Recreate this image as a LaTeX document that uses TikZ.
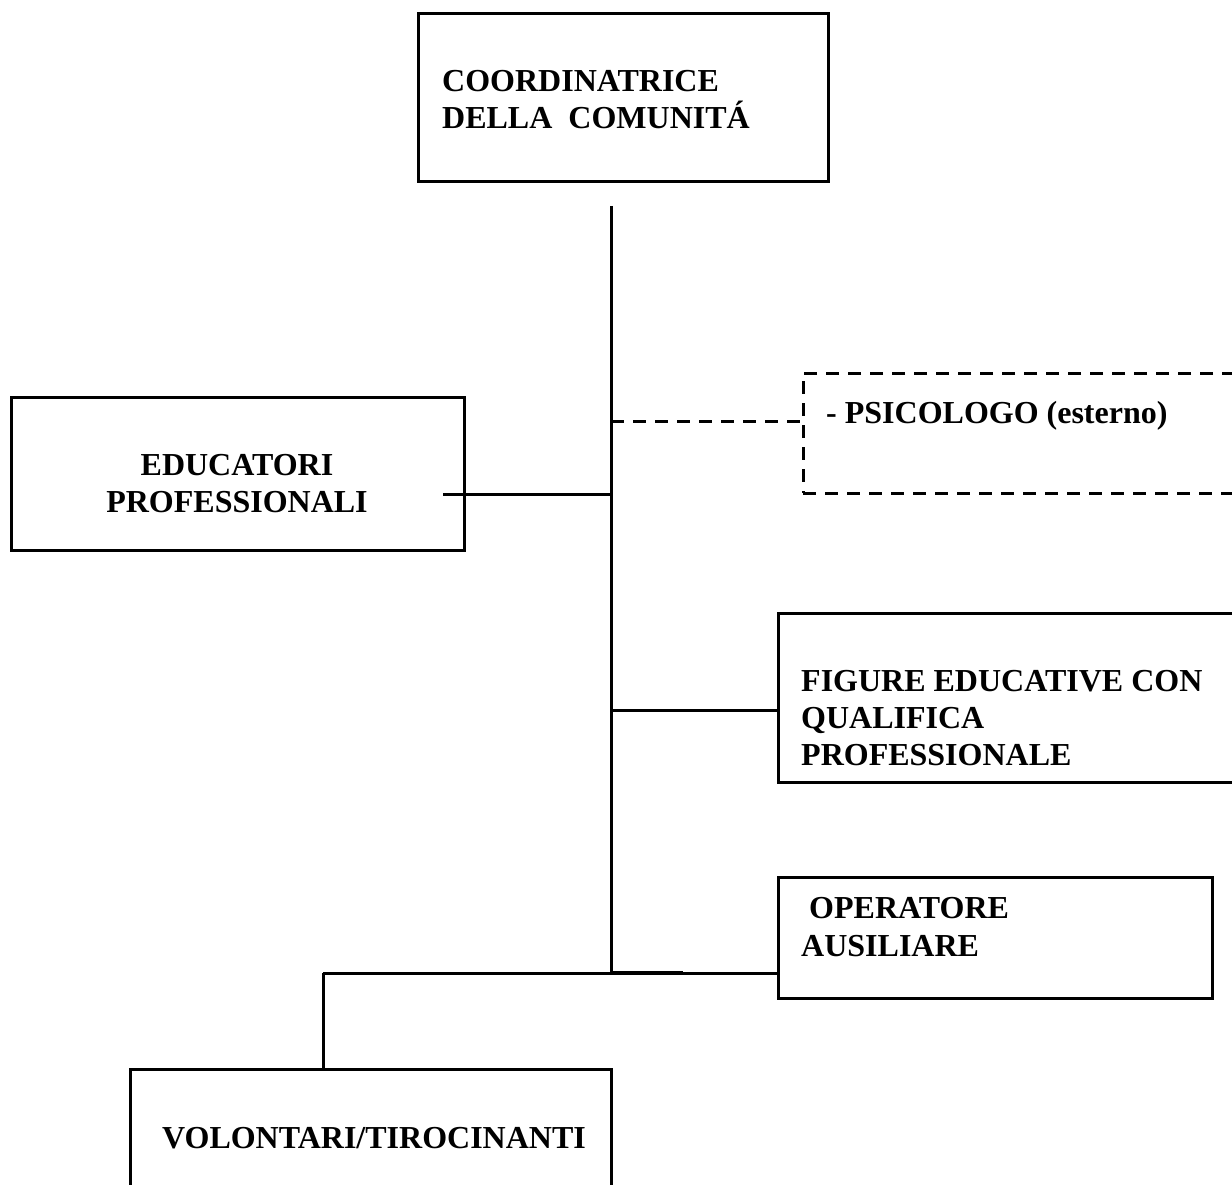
\documentclass[tikz,border=0pt]{standalone}
\usepackage{fontspec}
\setmainfont{Liberation Serif}
\tikzset{
  box/.style={draw, line width=3pt, inner sep=0pt},
  dbox/.style={box, dash pattern=on 13pt off 9pt},
  lbl/.style={font=\fontsize{32}{38}\selectfont\bfseries, inner sep=0pt, anchor=base west},
  clbl/.style={lbl, anchor=base},
  conn/.style={line width=3pt},
  dconn/.style={conn, dash pattern=on 13pt off 9pt},
}
\begin{document}
\begin{tikzpicture}[x=1pt,y=-1pt]
\useasboundingbox (0,0) rectangle (1232,1185);
\clip (0,0) rectangle (1232,1185);
% boxes
\node[box, minimum width=410pt, minimum height=168.5pt] (coord) at (623,97.75) {};
\node[box, minimum width=453pt, minimum height=153pt] (edu) at (237.5,473.5) {};
\node[dbox, minimum width=497pt, minimum height=120pt] (psi) at (1051.5,433) {};
\node[box, minimum width=522pt, minimum height=169pt] (fig) at (1039,697.5) {};
\node[box, minimum width=434pt, minimum height=121pt] (op) at (995,937.5) {};
\node[box, minimum width=481pt, minimum height=231pt] (vol) at (370.5,1184.5) {};
% texts
\node[lbl] (coordA) at (442,92) {COORDINATRICE};
\node[lbl] (coordB) at (442,129) {DELLA\ \ COMUNITÁ};
\node[clbl] (eduA) at (237,475) {EDUCATORI};
\node[clbl] (eduB) at (237,512) {PROFESSIONALI};
\node[lbl] (psiA) at (826,423) {- PSICOLOGO (esterno)};
\node[lbl] (figA) at (801,691) {FIGURE EDUCATIVE CON};
\node[lbl] (figB) at (801,728) {QUALIFICA};
\node[lbl] (figC) at (801,765) {PROFESSIONALE};
\node[lbl] (opA) at (809,918) {OPERATORE};
\node[lbl] (opB) at (801,956) {AUSILIARE};
\node[clbl] (volA) at (374,1148) {VOLONTARI/TIROCINANTI};
% connectors
\coordinate (top) at (611,206);
\coordinate (pj) at (611,421);
\coordinate (ej) at (611,494);
\coordinate (fj) at (611,710);
\coordinate (j1) at (611,973);
\coordinate (vj) at (323,973);
\coordinate (eduin) at (443,494);
\draw[conn] (top) -- (j1);
\draw[conn] (eduin) -- (ej);
\draw[dconn] (pj) -- (pj -| psi.west);
\draw[conn] (fj) -- (fj -| fig.west);
\draw[conn] (vj) -- (vj -| op.west);
\draw[line width=4pt] (j1) -- ++(72,0);
\draw[conn] (vj) -- (vj |- vol.north);
\end{tikzpicture}
\end{document}
